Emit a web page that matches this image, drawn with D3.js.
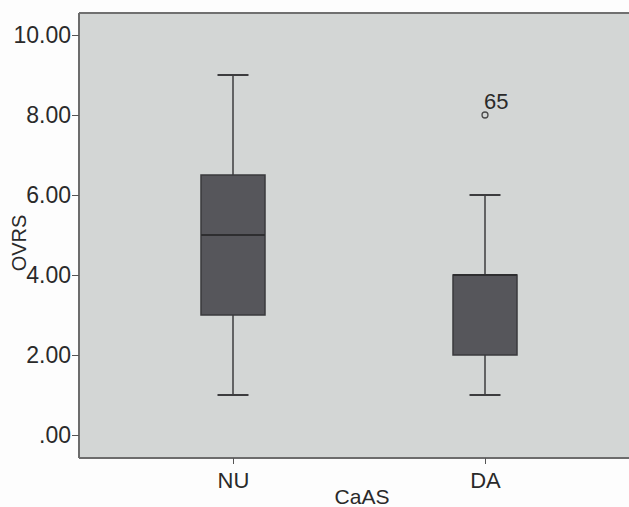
<!DOCTYPE html>
<html><head><meta charset="utf-8">
<script src="https://cdn.jsdelivr.net/npm/d3@7"></script>
<style>body{margin:0;background:#fdfdfd}svg{display:block}text{font-family:"Liberation Sans",Arial,sans-serif;fill:#2a2a2a}</style>
</head><body><svg id="c" width="629" height="507"></svg>
<script>
const categories = ["NU", "DA"];
const whiskerLow = [1, 1];
const q1 = [3, 2];
const median = [5, 4];
const q3 = [6.5, 4];
const whiskerHigh = [9, 6];
const outlierValues = [[], [8]];
const outlierLabels = [[], ["65"]];
const yTicks = [0, 2, 4, 6, 8, 10];
const yTickLabels = [".00", "2.00", "4.00", "6.00", "8.00", "10.00"];
const xTitle = "CaAS", yTitle = "OVRS";

const svg = d3.select("#c");
const L = 79, R = 629, T = 13, B = 458;
const y = d3.scaleLinear().domain([-0.575, 10.55]).range([B, T]);
const x = d3.scalePoint().domain(categories).range([233, 485]);

svg.append("rect").attr("x", L).attr("y", T).attr("width", R - L).attr("height", B - T).attr("fill", "#d3d6d5");

const boxW = 64, capW = 31;
const data = categories.map((c, i) => ({c, lo: whiskerLow[i], q1: q1[i], med: median[i], q3: q3[i], hi: whiskerHigh[i], out: outlierValues[i], lab: outlierLabels[i]}));
const g = svg.append("g");
data.forEach(d => {
  const cx = x(d.c);
  const lc = "#3c3c3e";
  g.append("line").attr("x1", cx).attr("x2", cx).attr("y1", y(d.hi)).attr("y2", y(d.q3)).attr("stroke", lc).attr("stroke-width", 1.5);
  g.append("line").attr("x1", cx).attr("x2", cx).attr("y1", y(d.q1)).attr("y2", y(d.lo)).attr("stroke", lc).attr("stroke-width", 1.5);
  g.append("line").attr("x1", cx - capW / 2).attr("x2", cx + capW / 2).attr("y1", y(d.hi)).attr("y2", y(d.hi)).attr("stroke", lc).attr("stroke-width", 2);
  g.append("line").attr("x1", cx - capW / 2).attr("x2", cx + capW / 2).attr("y1", y(d.lo)).attr("y2", y(d.lo)).attr("stroke", lc).attr("stroke-width", 2);
  g.append("rect").attr("x", cx - boxW / 2).attr("y", y(d.q3)).attr("width", boxW).attr("height", y(d.q1) - y(d.q3))
    .attr("fill", "#56565b").attr("stroke", "#3a3a3c").attr("stroke-width", 1.5);
  g.append("line").attr("x1", cx - boxW / 2).attr("x2", cx + boxW / 2).attr("y1", y(d.med)).attr("y2", y(d.med)).attr("stroke", "#2e2e30").attr("stroke-width", 2);
  d.out.forEach((v, k) => {
    g.append("circle").attr("cx", cx).attr("cy", y(v)).attr("r", 3).attr("fill", "none").attr("stroke", "#4a4a4a").attr("stroke-width", 1.3);
    g.append("text").attr("x", cx - 1).attr("y", y(v) - 6).attr("font-size", 22).text(d.lab[k]);
  });
});

svg.append("line").attr("x1", L).attr("x2", R).attr("y1", T).attr("y2", T).attr("stroke", "#707070").attr("stroke-width", 2);
const yAxis = svg.append("g").attr("transform", `translate(${L},0)`)
  .call(d3.axisLeft(y).tickValues(yTicks).tickFormat((d, i) => yTickLabels[i]).tickSize(7).tickPadding(1));
yAxis.select(".domain").attr("d", `M0,${T}V${B}`).attr("stroke", "#6c6c6c").attr("stroke-width", 2);
yAxis.selectAll(".tick line").attr("stroke", "#555");
yAxis.selectAll(".tick text").attr("font-size", 23).attr("fill", "#2a2a2a").attr("font-family", "Liberation Sans, Arial, sans-serif");

const xAxis = svg.append("g").attr("transform", `translate(0,${B})`)
  .call(d3.axisBottom(x).tickSize(6).tickPadding(8));
xAxis.select(".domain").attr("d", `M${L},0H${R}`).attr("stroke", "#6c6c6c").attr("stroke-width", 2);
xAxis.selectAll(".tick line").attr("stroke", "#555");
xAxis.selectAll(".tick text").attr("font-size", 22).attr("fill", "#2a2a2a").attr("font-family", "Liberation Sans, Arial, sans-serif");

svg.append("text").attr("x", 362).attr("y", 504).attr("text-anchor", "middle").attr("font-size", 21).text(xTitle);
svg.append("text").attr("transform", "translate(26,243) rotate(-90)").attr("text-anchor", "middle").attr("font-size", 20).text(yTitle);
</script></body></html>
